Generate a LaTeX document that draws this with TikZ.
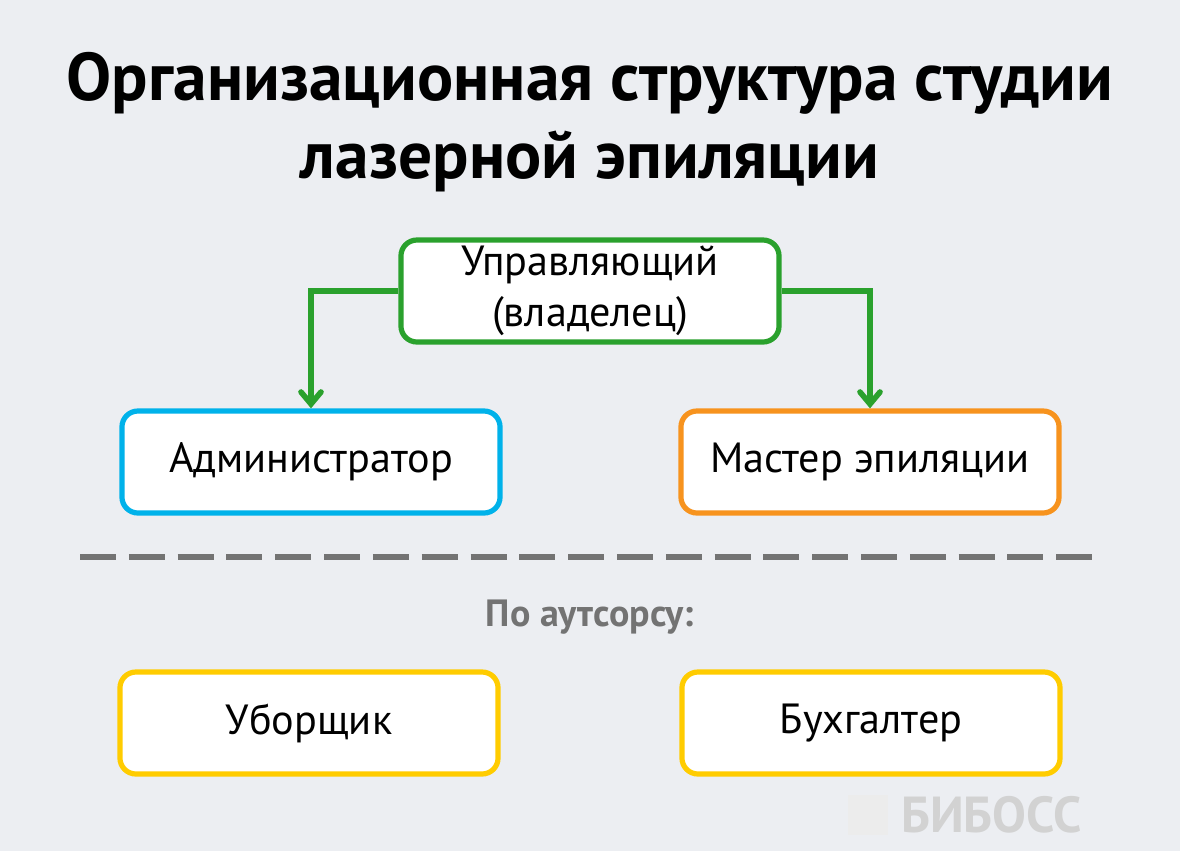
\documentclass[tikz,border=0pt]{standalone}
\usepackage{fontspec}
\setmainfont{PT Sans}
\usetikzlibrary{positioning,arrows.meta}
\definecolor{bg}{HTML}{ECEEF2}
\definecolor{grn}{HTML}{2AA12D}
\definecolor{blu}{HTML}{00B2EA}
\definecolor{org}{HTML}{F7931E}
\definecolor{ylw}{HTML}{FFCC00}
\definecolor{gry}{HTML}{737373}
\tikzset{box/.style={draw,fill=white,rounded corners=0.4cm,line width=0.13cm,minimum width=9.45cm,minimum height=2.55cm,align=center,font=\fontsize{30}{36}\selectfont}}
\begin{document}
\begin{tikzpicture}[x=0.025cm,y=-0.025cm,>={Straight Barb[length=0.3cm,width=0.5cm,line cap=round]}]
    \fill[bg] (0,0) rectangle (1180,851);
    \useasboundingbox (0,0) rectangle (1180,851);
    \node[font=\fontsize{48}{55}\selectfont\bfseries,align=center] (title) at (590,122) {Организационная структура студии\\лазерной эпиляции};
    \node[box,draw=grn] (boss) at (590,291) {Управляющий\\(владелец)};
    \node[box,draw=blu] (adm) at (311,462) {Администратор};
    \node[box,draw=org] (mst) at (870,462) {Мастер эпиляции};
    \node[box,draw=ylw] (clean) at (309,723) {Уборщик};
    \node[box,draw=ylw] (acc) at (871,723) {Бухгалтер};
    \draw[grn,line width=0.14cm,->] (boss.west) -| (adm.north);
    \draw[grn,line width=0.14cm,->] (boss.east) -| (mst.north);
    \coordinate (l) at (80,557);
    \coordinate (r) at (1100,557);
    \draw[gry,line width=0.15cm,dash pattern=on 0.9cm off 0.32cm] (l) -- (r);
    \node[gry,font=\fontsize{27}{30}\selectfont\bfseries] (out) at (590,617) {По аутсорсу:};
    \node[fill=gray!15,minimum size=1cm] (icon) at (868,815) {};
    \node[gray!35,font=\fontsize{36}{40}\selectfont\bfseries,right=0.2cm of icon] (logo) {БИБОСС};
\end{tikzpicture}
\end{document}
